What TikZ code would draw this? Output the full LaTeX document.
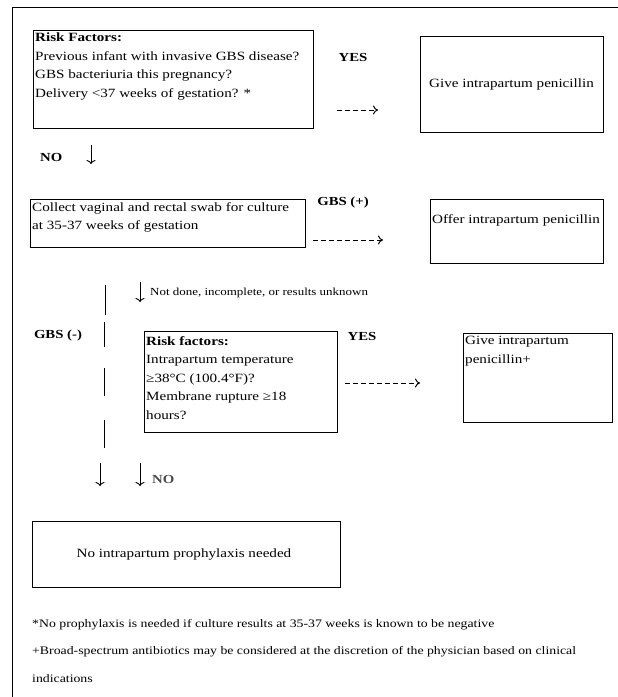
\documentclass[tikz,border=0pt]{standalone}
\usepackage{fontspec}
\setmainfont{Liberation Serif}[FakeStretch=1.2]
\usetikzlibrary{arrows.meta}
\begin{document}
\begin{tikzpicture}[x=1pt,y=-1pt,
  box/.style={draw, line width=0.8pt},
  txt/.style={anchor=north west, align=left, inner sep=0pt, font=\fontsize{12.6}{18.5}\selectfont},
  ctxt/.style={inner sep=0pt, font=\fontsize{12.6}{18.5}\selectfont},
  lbl/.style={inner sep=0pt, font=\fontsize{12.3}{15}\selectfont\bfseries},
  small/.style={anchor=west, inner sep=0pt, font=\fontsize{10.8}{12}\selectfont},
  foot/.style={anchor=west, inner sep=0pt, font=\fontsize{11.5}{13}\selectfont},
  dasharrow/.style={dashed, dash pattern=on 5pt off 3pt, line width=1pt, -{To[length=5pt,width=9pt]}},
  downarrow/.style={line width=0.9pt, -{To[length=4pt,width=9pt]}},
  bar/.style={line width=0.9pt}]
\useasboundingbox (0,0) rectangle (618,697);
% outer frame
\draw[line width=1pt] (618,7) -- (12,7) -- (12,697);

% Box 1
\draw[box] (33,30) rectangle (313,128);
\node[txt] (t1) at (35,33) {\textbf{Risk Factors:}\\Previous infant with invasive GBS disease?\\GBS bacteriuria this pregnancy?\\Delivery {\textless}37 weeks of gestation? *};
\node[lbl] (yes1) at (353,57) {YES};
\coordinate (a1s) at (337,110);
\coordinate (a1e) at (378,110);
\draw[dasharrow] (a1s) -- (a1e);
\draw[box] (420,36) rectangle (603,132);
\node[ctxt] (give1) at (511.5,84) {Give intrapartum penicillin};

% NO
\node[lbl, anchor=west] (no1) at (40,157) {NO};
\coordinate (n1s) at (91,145);
\coordinate (n1e) at (91,164);
\draw[downarrow] (n1s) -- (n1e);

% Box 2
\draw[box] (30,199) rectangle (305,247);
\node[txt] (t2) at (32,202) {Collect vaginal and rectal swab for culture\\at 35-37 weeks of gestation};
\node[lbl] (gbsp) at (343,203) {GBS (+)};
\coordinate (a2s) at (313,240);
\coordinate (a2e) at (383,240);
\draw[dasharrow] (a2s) -- (a2e);
\draw[box] (430,199) rectangle (603,263);
\node[txt] (offer) at (432,214) {Offer intrapartum penicillin};

% Not done
\coordinate (v1s) at (105,285);
\coordinate (v1e) at (105,315);
\draw[bar] (v1s) -- (v1e);
\coordinate (n2s) at (140,282);
\coordinate (n2e) at (140,302);
\draw[downarrow] (n2s) -- (n2e);
\node[small] (notdone) at (150,293) {Not done, incomplete, or results unknown};

% GBS (-)
\node[lbl] (gbsm) at (58,336) {GBS (-)};
\coordinate (v2s) at (104,322);
\coordinate (v2e) at (104,347);
\draw[bar] (v2s) -- (v2e);
\coordinate (v3s) at (104,368);
\coordinate (v3e) at (104,396);
\draw[bar] (v3s) -- (v3e);
\coordinate (v4s) at (104,420);
\coordinate (v4e) at (104,448);
\draw[bar] (v4s) -- (v4e);

% Box 3
\draw[box] (144,331) rectangle (337,432);
\node[txt] (t3) at (146,336) {\textbf{Risk factors:}\\Intrapartum temperature\\≥38°C (100.4°F)?\\Membrane rupture ≥18\\hours?};
\node[lbl] (yes2) at (362,336) {YES};
\coordinate (a3s) at (345,383);
\coordinate (a3e) at (420,383);
\draw[dasharrow] (a3s) -- (a3e);
\draw[box] (463,333) rectangle (612,422);
\node[txt] (give2) at (465,336) {Give intrapartum\\penicillin+};

% bottom arrows
\coordinate (d1s) at (100,463);
\coordinate (d1e) at (100,486);
\draw[downarrow] (d1s) -- (d1e);
\coordinate (d2s) at (140,463);
\coordinate (d2e) at (140,486);
\draw[downarrow] (d2s) -- (d2e);
\node[lbl, anchor=west, text=black!70] (no2) at (152,479) {NO};

% Box 5
\draw[box] (32,521) rectangle (340,587);
\node[ctxt] (none) at (184,554) {No intrapartum prophylaxis needed};

% footnotes
\node[foot] (f1) at (32,625) {*No prophylaxis is needed if culture results at 35-37 weeks is known to be negative};
\node[foot] (f2) at (32,652) {+Broad-spectrum antibiotics may be considered at the discretion of the physician based on clinical};
\node[foot] (f3) at (32,679) {indications};
\end{tikzpicture}
\end{document}
